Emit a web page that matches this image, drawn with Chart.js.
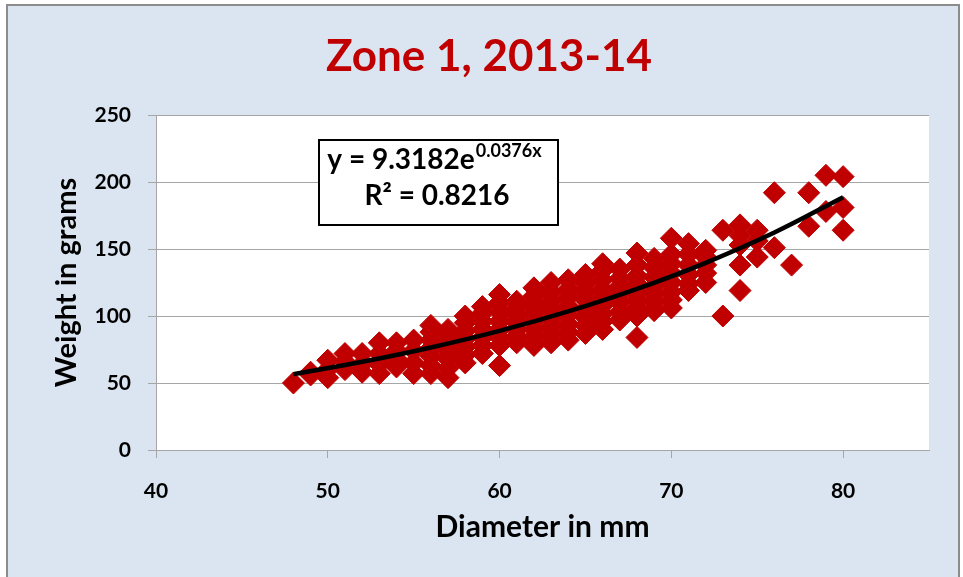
<!DOCTYPE html>
<html>
<head>
<meta charset="utf-8">
<script src="https://cdn.jsdelivr.net/npm/chart.js@4.4.1/dist/chart.umd.min.js"></script>
<style>
  html, body { margin: 0; padding: 0; background: #fff; }
</style>
</head>
<body>
<canvas id="zoneChart" width="963" height="577"></canvas>
<script>
// Scatter data: diameter (mm) and weight (g), paired by index
const diameterMm = [
  48,
  49, 49,
  50, 50, 50,
  51, 51, 51,
  52, 52, 52,
  53, 53, 53, 53,
  54, 54, 54, 54,
  55, 55, 55, 55,
  56, 56, 56, 56, 56, 56, 56,
  57, 57, 57, 57, 57, 57, 57,
  58, 58, 58, 58, 58, 58, 58,
  59, 59, 59, 59, 59, 59, 59,
  60, 60, 60, 60, 60, 60, 60, 60,
  61, 61, 61, 61, 61, 61, 61,
  62, 62, 62, 62, 62, 62, 62, 62,
  63, 63, 63, 63, 63, 63, 63, 63,
  64, 64, 64, 64, 64, 64, 64, 64,
  65, 65, 65, 65, 65, 65, 65, 65,
  66, 66, 66, 66, 66, 66, 66, 66, 66,
  67, 67, 67, 67, 67, 67, 67,
  68, 68, 68, 68, 68, 68, 68, 68, 68,
  69, 69, 69, 69, 69, 69, 69,
  70, 70, 70, 70, 70, 70, 70, 70,
  71, 71, 71, 71, 71, 71,
  72, 72, 72, 72, 72,
  73, 73,
  74, 74, 74, 74, 74,
  75, 75, 75,
  76, 76,
  77,
  78, 78,
  79, 79,
  80, 80, 80
];
const weightG = [
  50,
  56, 58,
  54, 60, 67,
  60, 66, 72,
  58, 64, 72,
  57, 64, 72, 80,
  62, 68, 74, 80,
  57, 65, 74, 82,
  57, 63, 70, 76, 82, 88, 93,
  54, 61, 68, 74, 80, 86, 90,
  65, 71, 77, 83, 89, 95, 100,
  72, 78, 84, 90, 96, 102, 107,
  63, 78, 84, 90, 96, 103, 110, 116,
  80, 85, 90, 95, 100, 106, 111,
  78, 84, 90, 96, 102, 108, 115, 121,
  80, 86, 92, 98, 105, 111, 118, 125,
  82, 88, 94, 101, 107, 114, 120, 127,
  87, 93, 99, 105, 112, 118, 124, 131,
  90, 96, 102, 108, 114, 120, 127, 134, 139,
  97, 103, 110, 116, 122, 128, 135,
  84, 100, 106, 112, 118, 124, 130, 138, 147,
  104, 110, 116, 122, 129, 136, 143,
  106, 112, 118, 125, 132, 139, 146, 158,
  119, 124, 131, 138, 146, 154,
  125, 132, 138, 144, 149,
  100, 164,
  119, 138, 153, 160, 168,
  144, 156, 164,
  151, 192,
  138,
  167, 192,
  178, 205,
  164, 181, 204
];

// Exponential trendline, values
const trendX = [48, 52, 56, 60, 64, 68, 72, 76, 80];
const trendY = [56.6, 65.8, 76.5, 88.9, 103.4, 120.2, 139.7, 162.3, 188.7];

// Axis ticks
const xTicks = [40, 50, 60, 70, 80];
const yTicks = [0, 50, 100, 150, 200, 250];

const titleText = "Zone 1, 2013-14";
const eqMain = "y = 9.3182e";
const eqExp = "0.0376x";
const eqR2 = "R² = 0.8216";

const FONT = "Lato, 'Open Sans', sans-serif";
const RED = "#c00000";
const GRID = "#a6a6a6";

// Background panel, outer frame and white plot area
const backdrop = {
    id: "backdrop",
    beforeDraw(chart) {
        const { ctx, chartArea } = chart;
        ctx.save();
        ctx.fillStyle = "#ffffff";
        ctx.fillRect(0, 0, chart.width, chart.height);
        ctx.fillStyle = "#dbe5f1";
        ctx.fillRect(7, 5, 952, 580);
        ctx.strokeStyle = "#8c8c8c";
        ctx.lineWidth = 2;
        ctx.strokeRect(7, 5, 952, 580);
        ctx.fillStyle = "#ffffff";
        ctx.fillRect(chartArea.left, chartArea.top,
            chartArea.right - chartArea.left, chartArea.bottom - chartArea.top);
        ctx.restore();
    },
};

// Trendline equation label in a boxed frame
const equationBox = {
    id: "equationBox",
    afterDatasetsDraw(chart) {
        const ctx = chart.ctx;
        const bx = 319, by = 140, bw = 239, bh = 85;
        ctx.save();
        ctx.fillStyle = "#ffffff";
        ctx.fillRect(bx, by, bw, bh);
        ctx.strokeStyle = "#000000";
        ctx.lineWidth = 2;
        ctx.strokeRect(bx, by, bw, bh);

        ctx.fillStyle = "#000000";
        ctx.textBaseline = "alphabetic";
        ctx.font = "bold 28px " + FONT;
        const w1 = ctx.measureText(eqMain).width;
        ctx.font = "bold 18px " + FONT;
        const w2 = ctx.measureText(eqExp).width;
        const x0 = 434 - (w1 + w2) / 2;
        ctx.font = "bold 28px " + FONT;
        ctx.textAlign = "left";
        ctx.fillText(eqMain, x0, 169);
        ctx.font = "bold 18px " + FONT;
        ctx.fillText(eqExp, x0 + w1 + 1, 157);

        ctx.font = "bold 28px " + FONT;
        ctx.textAlign = "center";
        ctx.fillText(eqR2, 437, 205);
        ctx.restore();
    },
};

const ctx = document.getElementById("zoneChart").getContext("2d");

new Chart(ctx, {
    type: "scatter",
    data: {
        datasets: [
            {
                type: "line",
                label: "Trend",
                data: trendX.map((x, i) => ({ x: x, y: trendY[i] })),
                borderColor: "#000000",
                borderWidth: 4.5,
                pointRadius: 0,
                tension: 0.4,
                fill: false,
            },
            {
                label: "Weight",
                data: diameterMm.map((x, i) => ({ x: x, y: weightG[i] })),
                pointStyle: "rectRot",
                pointRadius: 11,
                pointBackgroundColor: RED,
                pointBorderColor: RED,
                pointBorderWidth: 1,
            },
        ],
    },
    options: {
        responsive: false,
        animation: false,
        layout: { padding: { left: 49, right: 34, top: 0, bottom: 27 } },
        plugins: {
            legend: { display: false },
            tooltip: { enabled: false },
            title: {
                display: true,
                text: titleText,
                color: RED,
                font: { family: FONT, size: 44, weight: "bold", lineHeight: 1.2 },
                padding: { top: 30, bottom: 32.2 },
            },
        },
        scales: {
            x: {
                type: "linear",
                min: 40,
                max: 85,
                afterBuildTicks: (s) => { s.ticks = xTicks.map((v) => ({ value: v })); },
                afterFit: (s) => { s.height = 100; },
                ticks: {
                    color: "#000000",
                    padding: 21,
                    font: { family: FONT, size: 21, weight: "bold" },
                },
                grid: { drawOnChartArea: false, color: GRID, tickLength: 8 },
                border: { color: GRID },
                title: {
                    display: true,
                    text: "Diameter in mm",
                    color: "#000000",
                    font: { family: FONT, size: 30, weight: "bold", lineHeight: 1.2 },
                    padding: { top: 0, bottom: 5 },
                },
            },
            y: {
                min: 0,
                max: 250,
                afterBuildTicks: (s) => { s.ticks = yTicks.map((v) => ({ value: v })); },
                afterFit: (s) => { s.width = 107; },
                ticks: {
                    color: "#000000",
                    padding: 17,
                    font: { family: FONT, size: 21, weight: "bold" },
                },
                grid: { color: GRID, tickLength: 8 },
                border: { color: GRID },
                title: {
                    display: true,
                    text: "Weight in grams",
                    color: "#000000",
                    font: { family: FONT, size: 29, weight: "bold", lineHeight: 1.2 },
                    padding: { top: 0, bottom: 0 },
                },
            },
        },
    },
    plugins: [backdrop, equationBox],
});
</script>
</body>
</html>
